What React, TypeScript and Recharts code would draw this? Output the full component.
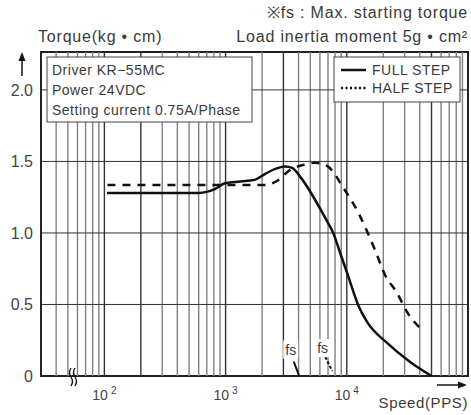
import {
  LineChart,
  Line,
  XAxis,
  YAxis,
  ReferenceLine,
  ReferenceArea,
  ReferenceDot,
} from "recharts";

const FONT = '"Liberation Sans", Arial, sans-serif';
const TEXT = "#3a3a3a";

// speed (PPS, log axis) and torque (kg·cm)
const speedTicks = [100, 1000, 10000];
const speedTickExp = ["2", "3", "4"];
const torqueTicks = [0, 0.5, 1, 1.5, 2];

const gridSpeeds = [
  40, 50, 60, 70, 80, 90,
  100, 200, 300, 400, 500, 600, 700, 800, 900,
  1000, 2000, 3000, 4000, 5000, 6000, 7000, 8000, 9000,
  10000, 20000, 30000, 40000, 50000, 60000, 70000, 80000, 90000,
];
const darkGridSpeeds = [100, 200, 1000, 3000, 10000, 50000];
const gridTorques = [0.5, 1, 1.5, 2];

const fullSpeed = [105, 596, 822, 975, 1320, 1727, 2125, 2570, 3105, 3545, 4130, 6640, 7730, 8820, 10250, 12400, 14700, 21500, 33300, 50000];
const fullTorque = [1.28, 1.28, 1.308, 1.346, 1.36, 1.371, 1.413, 1.448, 1.465, 1.455, 1.392, 1.105, 1.0, 0.86, 0.7, 0.497, 0.378, 0.231, 0.098, 0];

const halfSpeed = [106, 1250, 2125, 2670, 3410, 4380, 5500, 6640, 7730, 8820, 12350, 17100, 20700, 26000, 31400, 41800];
const halfTorque = [1.335, 1.335, 1.335, 1.365, 1.441, 1.476, 1.49, 1.476, 1.427, 1.35, 1.147, 0.881, 0.706, 0.58, 0.448, 0.322];

// fs (max. starting torque) marks
const fsFullSpeed = [3650, 4050];
const fsFullTorque = [0.1, 0];
const fsHalfSpeed = [6640, 7590];
const fsHalfTorque = [0.133, 0.035];
const fsLabelSpeed = [3447, 6325];
const fsLabelTorque = [0.185, 0.195];

const toPoints = (xs: number[], ys: number[]) =>
  xs.map((x, i) => ({ speed: x, torque: ys[i] }));

function SpeedTick({ x, y, payload }: any) {
  const exp = speedTickExp[speedTicks.indexOf(payload.value)];
  return (
    <text x={x} y={y + 22} textAnchor="middle" fill="#444" fontSize={14} fontFamily={FONT}>
      10
      <tspan dx={3} dy={-6} fontSize={10}>
        {exp}
      </tspan>
    </text>
  );
}

function FsLabel({ cx, cy }: any) {
  return (
    <g>
      <rect x={cx - 7.5} y={cy - 9} width={15} height={18} fill="#fff" />
      <text x={cx} y={cy + 5} textAnchor="middle" fontSize={14} fill={TEXT} fontFamily={FONT}>
        fs
      </text>
    </g>
  );
}

export default function App() {
  return (
    <div style={{ position: "fixed", left: 0, top: 0, width: 471, height: 415, background: "#fff" }}>
      <LineChart width={471} height={415} margin={{ top: 52, right: 3, bottom: 9, left: 0 }}>
        <XAxis
          dataKey="speed"
          type="number"
          scale="log"
          domain={[30, 100000]}
          allowDataOverflow
          ticks={speedTicks}
          tick={<SpeedTick />}
          axisLine={false}
          tickLine={false}
          tickSize={0}
          height={30}
        />
        <YAxis
          type="number"
          domain={[0, 2.265]}
          allowDataOverflow
          ticks={torqueTicks}
          tickFormatter={(v: number) => (v === 0 ? "0" : v.toFixed(1))}
          tick={{ fill: "#444", fontSize: 16, fontFamily: FONT }}
          axisLine={false}
          tickLine={false}
          tickSize={0}
          tickMargin={8}
          width={41}
        />
        {gridSpeeds.map((s) => (
          <ReferenceLine
            key={"gx" + s}
            x={s}
            stroke={darkGridSpeeds.includes(s) ? "#333" : "#808080"}
            strokeWidth={1.4}
          />
        ))}
        {gridTorques.map((t) => (
          <ReferenceLine key={"gy" + t} y={t} stroke="#333" strokeWidth={1} />
        ))}
        <ReferenceArea x1={30} x2={100000} y1={0} y2={2.265} fill="none" stroke="#222" strokeWidth={2} />
        <Line
          data={toPoints(fullSpeed, fullTorque)}
          dataKey="torque"
          type="monotone"
          stroke="#111"
          strokeWidth={2.5}
          dot={false}
          isAnimationActive={false}
        />
        <Line
          data={toPoints(halfSpeed, halfTorque)}
          dataKey="torque"
          type="monotone"
          stroke="#111"
          strokeWidth={2.5}
          strokeDasharray="8 7"
          dot={false}
          isAnimationActive={false}
        />
        <Line
          data={toPoints(fsFullSpeed, fsFullTorque)}
          dataKey="torque"
          type="linear"
          stroke="#111"
          strokeWidth={2}
          dot={false}
          isAnimationActive={false}
        />
        <Line
          data={toPoints(fsHalfSpeed, fsHalfTorque)}
          dataKey="torque"
          type="linear"
          stroke="#111"
          strokeWidth={2}
          strokeDasharray="3 2"
          dot={false}
          isAnimationActive={false}
        />
        {fsLabelSpeed.map((s, i) => (
          <ReferenceDot key={"fs" + i} x={s} y={fsLabelTorque[i]} r={0} shape={<FsLabel />} />
        ))}
      </LineChart>

      <svg
        width={471}
        height={415}
        style={{ position: "absolute", left: 0, top: 0, pointerEvents: "none" }}
        fontFamily={FONT}
      >
        <text x={468} y={18} textAnchor="end" fontSize={16} fill={TEXT} letterSpacing={0.8}>
          ※fs : Max. starting torque
        </text>
        <text x={468} y={42} textAnchor="end" fontSize={16} fill={TEXT} letterSpacing={0.8}>
          Load inertia moment 5g • cm²
        </text>
        <text x={38} y={42} fontSize={16} fill={TEXT} letterSpacing={0.8}>
          Torque(kg • cm)
        </text>
        <text x={468} y={408} textAnchor="end" fontSize={15} fill={TEXT} letterSpacing={0.6}>
          Speed(PPS)
        </text>

        {/* axis arrows */}
        <line x1={22} y1={76} x2={22} y2={58} stroke="#111" strokeWidth={1.5} />
        <polygon points="22,52 18.5,61 25.5,61" fill="#111" />
        <line x1={437} y1={385} x2={460} y2={385} stroke="#111" strokeWidth={1.5} />
        <polygon points="467,385 458,381.5 458,388.5" fill="#111" />

        {/* axis break */}
        <path d="M71,386 q3,-4.5 0,-9 q-3,-4.5 0,-9" stroke="#111" strokeWidth={1.3} fill="none" />
        <path d="M75,386 q3,-4.5 0,-9 q-3,-4.5 0,-9" stroke="#111" strokeWidth={1.3} fill="none" />

        {/* info box */}
        <rect x={47} y={57} width={205} height={65} fill="#fff" stroke="#444" strokeWidth={1} />
        <g fontSize={14} fill={TEXT} letterSpacing={0.5}>
          <text x={52} y={75}>Driver KR−55MC</text>
          <text x={52} y={95}>Power 24VDC</text>
          <text x={52} y={115}>Setting current 0.75A/Phase</text>
        </g>

        {/* legend */}
        <rect x={334} y={57} width={126} height={45} fill="#fff" stroke="#444" strokeWidth={1} />
        <line x1={341} y1={70} x2={366} y2={70} stroke="#111" strokeWidth={2.5} />
        <line x1={341} y1={88} x2={366} y2={88} stroke="#111" strokeWidth={2.5} strokeDasharray="2 2.5" />
        <g fontSize={14} fill={TEXT} letterSpacing={0.5}>
          <text x={372} y={75}>FULL STEP</text>
          <text x={372} y={93}>HALF STEP</text>
        </g>
      </svg>
    </div>
  );
}
